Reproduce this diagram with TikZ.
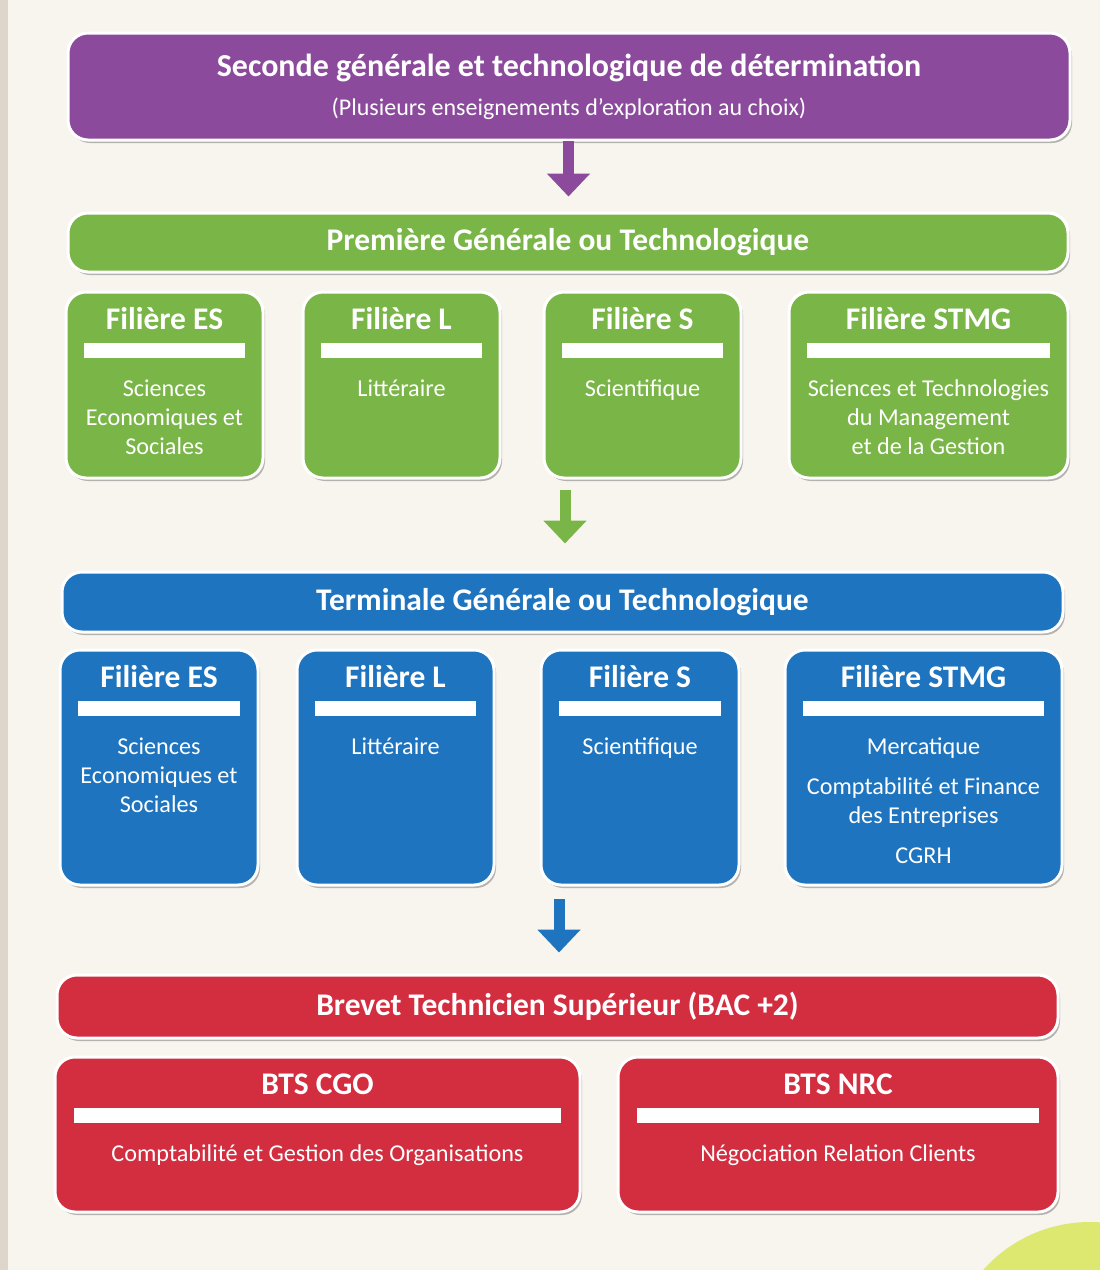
\documentclass[tikz,border=0pt]{standalone}
\usepackage{fontspec}
\setmainfont{Carlito}
\usetikzlibrary{shapes,arrows.meta,positioning,shadows}

\definecolor{papier}{RGB}{248,245,239}
\definecolor{reliure}{RGB}{222,214,202}
\definecolor{pastille}{RGB}{221,232,112}
\definecolor{secviolet}{RGB}{140,74,156}
\definecolor{premvert}{RGB}{122,181,72}
\definecolor{termbleu}{RGB}{30,116,190}
\definecolor{btsrouge}{RGB}{211,45,64}

\newcommand{\titrefont}{\bfseries\fontsize{31.5}{35}\selectfont}
\newcommand{\grandtitrefont}{\bfseries\fontsize{32}{36}\selectfont}
\newcommand{\soustitrefont}{\fontsize{24}{28}\selectfont}
\newcommand{\textefont}{\fontsize{24.2}{29}\selectfont}

\tikzstyle{tier} = [rectangle,draw=white,line width=3pt,rounded corners=20pt,text=white,font=\titrefont,drop shadow={shadow xshift=2pt,shadow yshift=-3pt,fill=black!55,opacity=0.5}]
\tikzstyle{cardtitle} = [text=white,inner sep=0pt,anchor=base,font=\titrefont]
\tikzstyle{cardbar} = [fill=white,inner sep=0pt,minimum height=15pt]
\tikzstyle{cardtext} = [text=white,inner sep=0pt,anchor=north,align=center,font=\textefont]
\tikzstyle{flow} = [line width=11pt,-{Triangle[width=42pt,length=23pt]}]

\begin{document}
\begin{tikzpicture}[x=1pt,y=-1pt]
  \useasboundingbox (0,0) rectangle (1100,1270);
  \begin{scope}
    \clip (0,0) rectangle (1100,1270);
    \fill[papier] (0,0) rectangle (1100,1270);
    \fill[reliure] (0,0) rectangle (8,1270);
    \fill[pastille] (1090,1365) circle (143pt);
  \end{scope}

  %seconde
  \node[tier,fill=secviolet,minimum width=1002pt,minimum height=107pt] (sec) at (569,86.5) {};
  \node[cardtitle,font=\grandtitrefont] (sectitle) at ([yshift=-45pt]sec.north) {Seconde générale et technologique de détermination};
  \node[cardtitle,font=\soustitrefont] (secsub) at ([yshift=-84pt]sec.north) {(Plusieurs enseignements d’exploration au choix)};

  %premiere
  \node[tier,fill=premvert,minimum width=1000pt,minimum height=59pt] (prem) at (568,242.5) {Première Générale ou Technologique};

  %ES
  \node[tier,fill=premvert,minimum width=197pt,minimum height=186pt] (es1) at (164.5,385) {};
  \node[cardtitle] at ([yshift=-39pt]es1.north) {Filière ES};
  \node[cardbar,minimum width=161pt] at ([yshift=-60pt]es1.north) {};
  \node[cardtext] at ([yshift=-89pt]es1.north) {Sciences\\Economiques et\\Sociales};

  %L
  \node[tier,fill=premvert,minimum width=197pt,minimum height=186pt] (l1) at (401.5,385) {};
  \node[cardtitle] at ([yshift=-39pt]l1.north) {Filière L};
  \node[cardbar,minimum width=161pt] at ([yshift=-60pt]l1.north) {};
  \node[cardtext] at ([yshift=-89pt]l1.north) {Littéraire};

  %S
  \node[tier,fill=premvert,minimum width=197pt,minimum height=186pt] (s1) at (642.5,385) {};
  \node[cardtitle] at ([yshift=-39pt]s1.north) {Filière S};
  \node[cardbar,minimum width=161pt] at ([yshift=-60pt]s1.north) {};
  \node[cardtext] at ([yshift=-89pt]s1.north) {Scientifique};

  %STMG
  \node[tier,fill=premvert,minimum width=279pt,minimum height=186pt] (stmg1) at (928.5,385) {};
  \node[cardtitle] at ([yshift=-39pt]stmg1.north) {Filière STMG};
  \node[cardbar,minimum width=243pt] at ([yshift=-60pt]stmg1.north) {};
  \node[cardtext] at ([yshift=-89pt]stmg1.north) {Sciences et Technologies\\du Management\\et de la Gestion};

  %terminale
  \node[tier,fill=termbleu,minimum width=1001pt,minimum height=60pt] (term) at (562.5,602) {Terminale Générale ou Technologique};

  %ES
  \node[tier,fill=termbleu,minimum width=198pt,minimum height=235pt] (es2) at (159,767.5) {};
  \node[cardtitle] at ([yshift=-39pt]es2.north) {Filière ES};
  \node[cardbar,minimum width=162pt] at ([yshift=-60pt]es2.north) {};
  \node[cardtext] at ([yshift=-89pt]es2.north) {Sciences\\Economiques et\\Sociales};

  %L
  \node[tier,fill=termbleu,minimum width=197pt,minimum height=235pt] (l2) at (395.5,767.5) {};
  \node[cardtitle] at ([yshift=-39pt]l2.north) {Filière L};
  \node[cardbar,minimum width=161pt] at ([yshift=-60pt]l2.north) {};
  \node[cardtext] at ([yshift=-89pt]l2.north) {Littéraire};

  %S
  \node[tier,fill=termbleu,minimum width=198pt,minimum height=235pt] (s2) at (640,767.5) {};
  \node[cardtitle] at ([yshift=-39pt]s2.north) {Filière S};
  \node[cardbar,minimum width=162pt] at ([yshift=-60pt]s2.north) {};
  \node[cardtext] at ([yshift=-89pt]s2.north) {Scientifique};

  %STMG
  \node[tier,fill=termbleu,minimum width=277pt,minimum height=235pt] (stmg2) at (923.5,767.5) {};
  \node[cardtitle] at ([yshift=-39pt]stmg2.north) {Filière STMG};
  \node[cardbar,minimum width=241pt] at ([yshift=-60pt]stmg2.north) {};
  \node[cardtext] at ([yshift=-89pt]stmg2.north) {Mercatique\\[11pt]Comptabilité et Finance\\des Entreprises\\[11pt]CGRH};

  %BTS
  \node[tier,fill=btsrouge,minimum width=1001pt,minimum height=63pt] (bts) at (557.5,1006.5) {Brevet Technicien Supérieur (BAC +2)};

  %CGO
  \node[tier,fill=btsrouge,minimum width=525pt,minimum height=155pt] (cgo) at (317.5,1134.5) {};
  \node[cardtitle] at ([yshift=-39pt]cgo.north) {BTS CGO};
  \node[cardbar,minimum width=487pt] at ([yshift=-60pt]cgo.north) {};
  \node[cardtext] at ([yshift=-89pt]cgo.north) {Comptabilité et Gestion des Organisations};

  %NRC
  \node[tier,fill=btsrouge,minimum width=440pt,minimum height=155pt] (nrc) at (838,1134.5) {};
  \node[cardtitle] at ([yshift=-39pt]nrc.north) {BTS NRC};
  \node[cardbar,minimum width=402pt] at ([yshift=-60pt]nrc.north) {};
  \node[cardtext] at ([yshift=-89pt]nrc.north) {Négociation Relation Clients};

  %draw the arrows
  \coordinate (a1) at (568.5,141);
  \coordinate (a2) at (565,490);
  \coordinate (a3) at (559,899);
  \draw[flow,secviolet] (a1) -- (a1 |- prem.north) [shorten >=15pt];
  \draw[flow,premvert] (a2) -- (a2 |- term.north) [shorten >=27pt];
  \draw[flow,termbleu] (a3) -- (a3 |- bts.north) [shorten >=21pt];

\end{tikzpicture}
\end{document}
